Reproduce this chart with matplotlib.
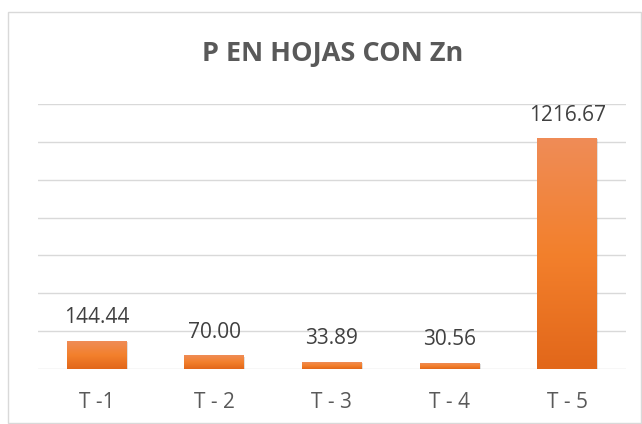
import numpy as np
import matplotlib
matplotlib.use('Agg')
from matplotlib import pyplot as plt
from matplotlib.colors import LinearSegmentedColormap
from matplotlib.patches import Rectangle

categories = ["T -1", "T - 2", "T - 3", "T - 4", "T - 5"]
values = [144.44, 70.00, 33.89, 30.56, 1216.67]
title = "P EN HOJAS CON Zn"

plt.rcParams['font.family'] = ['Open Sans', 'DejaVu Sans']

fig = plt.figure(figsize=(6.42, 4.24), dpi=100)
# outer chart border like excel
fig.patches.append(Rectangle((0.013, 0.002), 0.985, 0.970, transform=fig.transFigure,
                             fill=False, edgecolor='#d9d9d9', linewidth=1.0))
ax = fig.add_axes([0.059, 0.1297, 0.916, 0.625])

grad = LinearSegmentedColormap.from_list('og', ['#e2671a', '#f3802c', '#ef8c57'])
x = np.arange(len(categories))
width = 0.51
bars = ax.bar(x, values, width=width, color='none', zorder=3)
g = np.linspace(0, 1, 256).reshape(-1, 1)
for b in bars:
    x0, w, h = b.get_x(), b.get_width(), b.get_height()
    # soft shadow
    ax.add_patch(Rectangle((x0 + 0.01, -4), w, h, facecolor='#000000', alpha=0.12,
                           edgecolor='none', zorder=2))
    ax.imshow(g, cmap=grad, origin='lower', extent=(x0, x0 + w, 0, h),
              aspect='auto', zorder=3)
    ax.annotate(f"{h:.2f}", (x0 + w / 2, h), xytext=(0, 9.5), textcoords='offset points',
                ha='center', va='bottom', fontsize=15, color='#404040')

ax.set_xlim(-0.5, len(categories) - 0.5)
ax.set_ylim(0, 1400)
ax.set_yticks(np.arange(0, 1401, 200))
ax.yaxis.grid(True, color='#d9d9d9', linewidth=1.0, zorder=0)
ax.set_axisbelow(True)
ax.tick_params(axis='y', left=False, labelleft=False)
ax.tick_params(axis='x', bottom=False, labelsize=15, labelcolor='#595959', pad=13)
ax.set_xticks(x)
ax.set_xticklabels(categories)
for s in ax.spines.values():
    s.set_visible(False)

fig.text(0.518, 0.873, title, ha='center', va='center', fontsize=19.5,
         fontweight='bold', color='#595959')

fig.savefig('out.png', dpi=100)
